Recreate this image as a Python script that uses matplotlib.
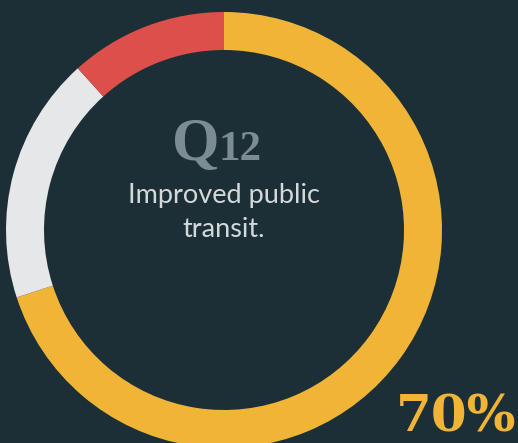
import matplotlib.pyplot as plt

# survey answer shares (yes / unsure / no)
labels = ["Yes", "Unsure", "No"]
values = [70, 18.3, 11.7]
colors = ["#f0b537", "#e6e7e8", "#dd4f4a"]

question_letter = "Q"
question_num = "12"
caption_lines = ["Improved public", "transit."]
headline = "70%"

bg = "#1d2f36"

fig = plt.figure(figsize=(5.18, 4.43), dpi=100, facecolor=bg)
ax = fig.add_axes([0, 0, 1, 1])
ax.set_facecolor(bg)

# ring, drawn in pixel-like coords (y up)
ax.pie(values, colors=colors, startangle=90, counterclock=False,
       radius=218, center=(224, 213),
       wedgeprops=dict(width=38, linewidth=0))

ax.set_xlim(0, 518)
ax.set_ylim(0, 443)
ax.set_aspect("equal")
ax.axis("off")

# Q12 title: big Q, smaller number
ax.text(172, 283, question_letter, ha="left", va="baseline", color="#7b8c92",
        fontsize=44, fontweight="bold", family="Liberation Serif")
ax.text(219, 283, question_num, ha="left", va="baseline", color="#7b8c92",
        fontsize=31, fontweight="bold", family="Liberation Serif")

ax.text(224, 240, caption_lines[0], ha="center", va="baseline", color="#d3d8db",
        fontsize=19.5, family="Lato")
ax.text(224, 206, caption_lines[1], ha="center", va="baseline", color="#d3d8db",
        fontsize=19.5, family="Lato")

ax.text(516, 11, headline, ha="right", va="baseline", color=colors[0],
        fontsize=37, fontweight="bold", family="DejaVu Serif")

fig.savefig("out.png", dpi=100, facecolor=bg)
